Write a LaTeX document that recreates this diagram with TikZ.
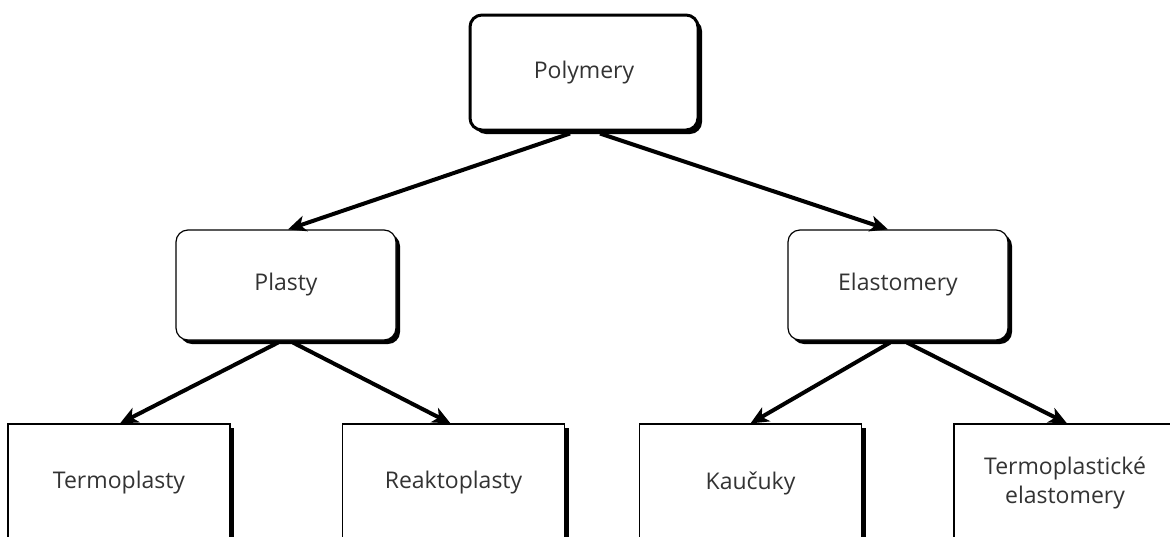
\documentclass[tikz,border=0pt]{standalone}
\usepackage{fontspec}
\setmainfont{Open Sans}
\usetikzlibrary{arrows.meta,shadows}
\definecolor{txt}{HTML}{333333}
\tikzset{
  base/.style={draw=black, fill=white, text=txt, font=\fontsize{23}{29}\selectfont, align=center,
    drop shadow={shadow xshift=4pt, shadow yshift=-4pt, opacity=1, fill=black}},
  topbox/.style={base, line width=3pt, rounded corners=12pt, minimum width=228pt, minimum height=115pt},
  midbox/.style={base, line width=1.2pt, rounded corners=12pt, minimum width=220pt, minimum height=110pt},
  leafbox/.style={base, line width=1.2pt, minimum width=222pt, minimum height=118pt},
  arr/.style={line width=4pt, -{Stealth[length=18pt,width=16pt,inset=5pt]}}
}
\begin{document}
\begin{tikzpicture}[x=1pt,y=-1pt]
\useasboundingbox (0,0) rectangle (1170,536);
\node[topbox] (poly) at (584,72.5) {Polymery};
\node[midbox] (plasty) at (286,285) {Plasty};
\node[midbox] (elast) at (898,285) {Elastomery};
\node[leafbox] (termo) at (119,483) {Termoplasty};
\node[leafbox] (reakto) at (453.5,483) {Reaktoplasty};
\node[leafbox] (kauc) at (750.5,483) {Kaučuky};
\node[leafbox] (tpe) at (1065,483) {Termoplastické\\elastomery};
\draw[arr] ([xshift=-14pt,yshift=-2pt]poly.south) -- ([xshift=2pt]plasty.north);
\draw[arr] ([xshift=16pt,yshift=-2pt]poly.south) -- ([xshift=-10pt]elast.north);
\draw[arr] ([xshift=-8pt,yshift=-2pt]plasty.south) -- ([xshift=1pt]termo.north);
\draw[arr] ([xshift=7pt,yshift=-2pt]plasty.south) -- ([xshift=-3pt]reakto.north);
\draw[arr] ([xshift=-8pt,yshift=-2pt]elast.south) -- (kauc.north);
\draw[arr] ([xshift=9pt,yshift=-2pt]elast.south) -- ([xshift=2pt]tpe.north);
\end{tikzpicture}
\end{document}
